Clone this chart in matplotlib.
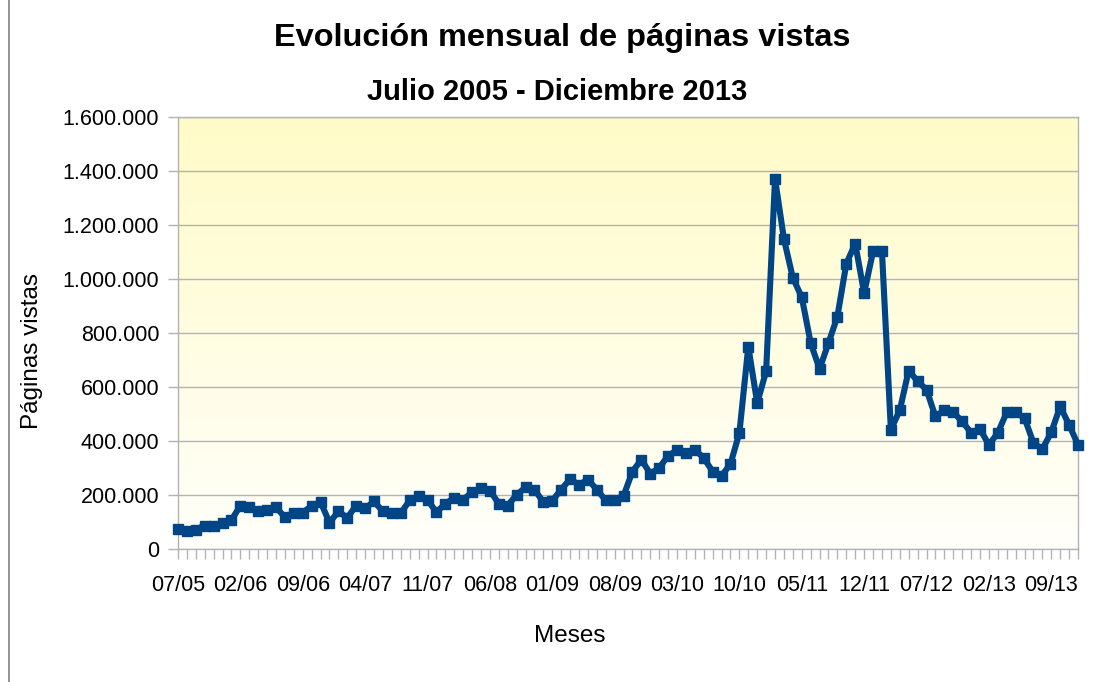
import numpy as np
import matplotlib.pyplot as plt
from matplotlib.ticker import FuncFormatter, FixedLocator
from matplotlib.lines import Line2D

plt.rcParams['font.family'] = ['Liberation Sans', 'DejaVu Sans']

# monthly page views, July 2005 - December 2013
views = [
    73000, 68000, 72000, 87000, 87000, 96000, 108000, 160000, 154000, 139000,
    143000, 154000, 118000, 135000, 135000, 160000, 174000, 98000, 139000, 116000,
    161000, 151000, 176000, 139000, 133000, 133000, 180000, 197000, 182000, 136000,
    168000, 189000, 183000, 210000, 226000, 216000, 168000, 161000, 201000, 228000,
    220000, 174000, 179000, 220000, 259000, 238000, 257000, 220000, 180000, 183000,
    197000, 287000, 331000, 279000, 300000, 346000, 365000, 356000, 368000, 337000,
    287000, 271000, 315000, 430000, 750000, 541000, 658000, 1371000, 1148000, 1004000,
    933000, 763000, 667000, 763000, 861000, 1057000, 1131000, 948000, 1102000, 1102000,
    442000, 514000, 661000, 621000, 590000, 491000, 513000, 506000, 473000, 430000,
    444000, 386000, 430000, 506000, 506000, 485000, 393000, 370000, 432000, 528000,
    460000, 386000,
]
months = [f"{(6 + i) % 12 + 1:02d}/{(2005 + (6 + i) // 12) % 100:02d}" for i in range(len(views))]
label_step = 7

fig = plt.figure(figsize=(11.02, 6.82), dpi=100)
ax = fig.add_axes([178 / 1102, 133 / 682, 900 / 1102, 432 / 682])

# yellow to white gradient behind the plot
grad = np.linspace(0, 1, 256).reshape(-1, 1)
top = np.array([255, 251, 200]) / 255
bot = np.array([255, 255, 250]) / 255
img = top + (bot - top) * grad[:, :, None]
ax.imshow(img, extent=[0, 1, 0, 1], transform=ax.transAxes, aspect='auto', zorder=0)

x = np.arange(len(views))
ax.plot(x, views, color='#004586', lw=4.4, marker='s', markersize=6.5,
        clip_on=False, zorder=3)

ax.set_xlim(0, len(views) - 1)
ax.set_ylim(0, 1600000)
ax.set_yticks(np.arange(0, 1600001, 200000))
ax.yaxis.set_major_formatter(FuncFormatter(lambda v, p: f"{int(v):,}".replace(',', '.')))

ax.xaxis.set_major_locator(FixedLocator(x[::label_step]))
ax.set_xticklabels(months[::label_step])
ax.xaxis.set_minor_locator(FixedLocator(x))

ax.set_axisbelow(True)
ax.grid(axis='y', color='#b3b3b3', lw=1)
for s in ax.spines.values():
    s.set_color('#b3b3b3')
    s.set_linewidth(1)

ax.tick_params(axis='both', which='both', color='#b3b3b3', direction='out')
ax.tick_params(axis='x', which='both', length=7.5, width=1, labelsize=15.5, pad=11)
ax.tick_params(axis='y', length=7.5, width=1, labelsize=15.5, pad=6)

fig.text(562 / 1102, 1 - 38 / 682, 'Evolución mensual de páginas vistas',
         ha='center', va='center', fontsize=23.4, fontweight='bold')
fig.text(557 / 1102, 1 - 92 / 682, 'Julio 2005 - Diciembre 2013',
         ha='center', va='center', fontsize=21, fontweight='bold')
fig.text(570 / 1102, 1 - 636 / 682, 'Meses', ha='center', va='center', fontsize=17.5)
fig.text(32 / 1102, 1 - 351 / 682, 'Páginas vistas', ha='center', va='center',
         fontsize=17.5, rotation=90)

fig.add_artist(Line2D([8.5 / 1102, 8.5 / 1102], [0, 1], color='#808080', lw=1.2))

fig.savefig('out.png', dpi=100)
